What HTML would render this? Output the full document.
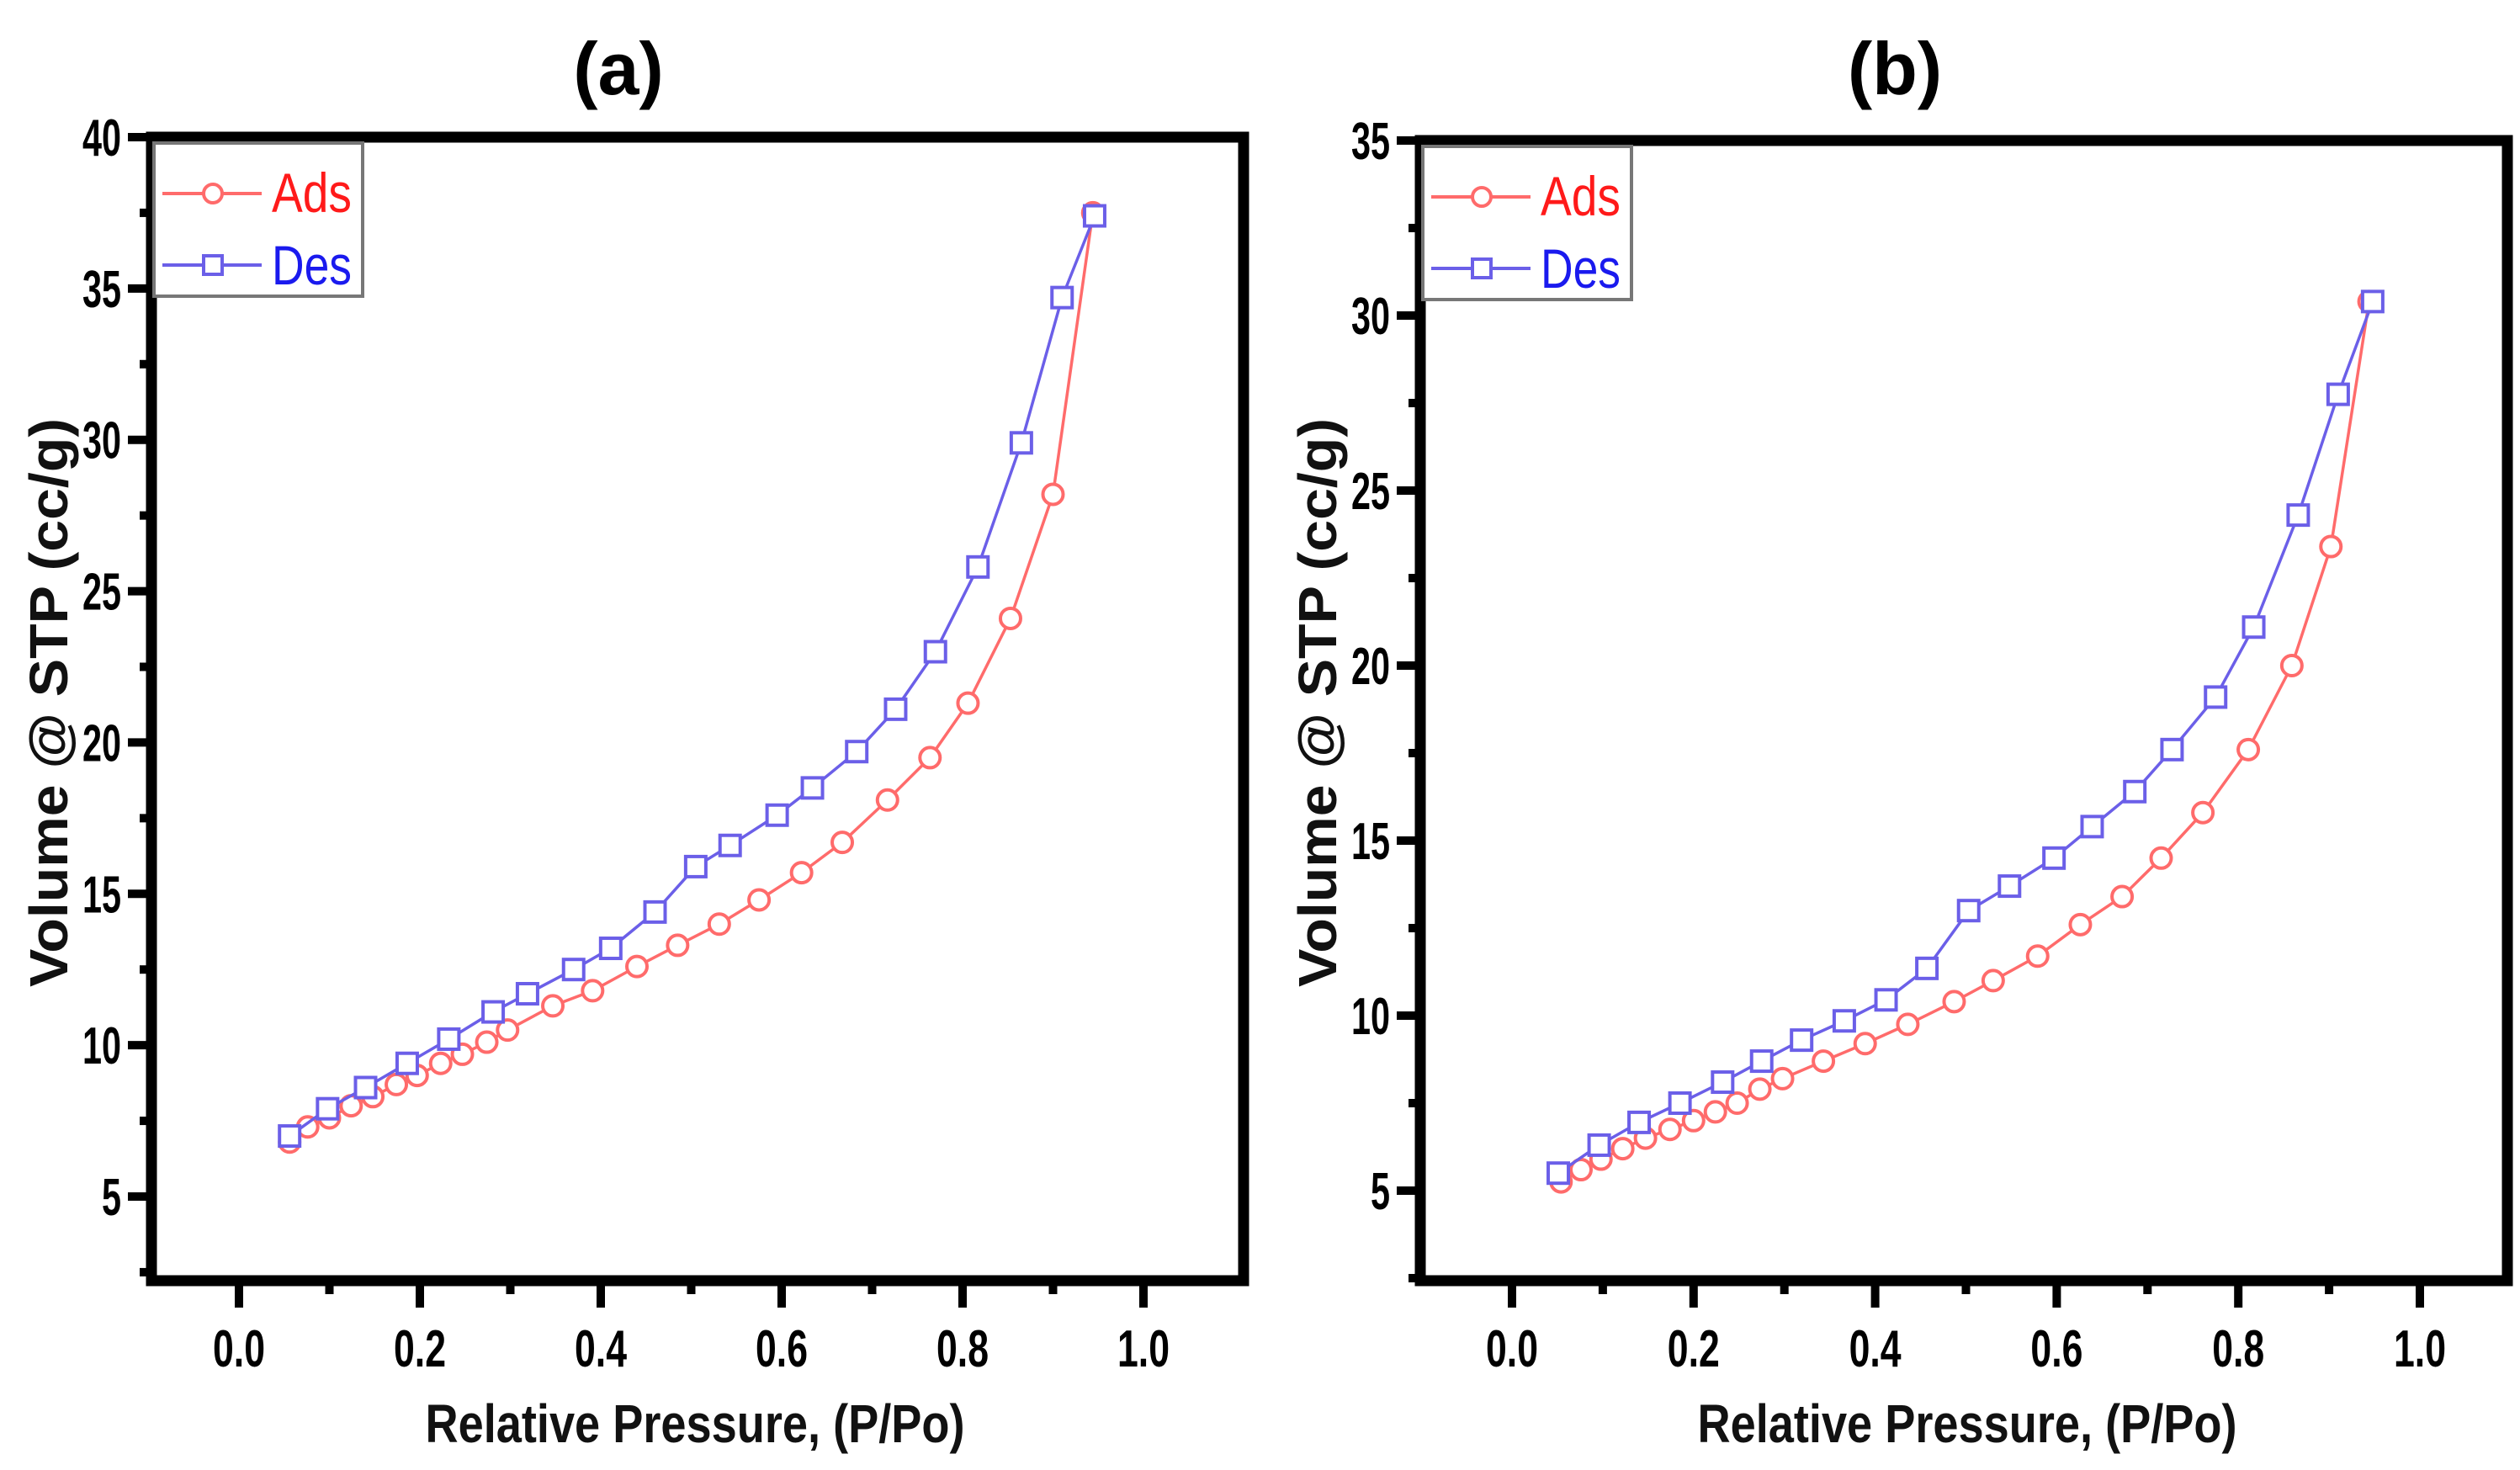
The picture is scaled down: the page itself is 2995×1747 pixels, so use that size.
<!DOCTYPE html>
<html><head><meta charset="utf-8"><style>
html,body{margin:0;padding:0;background:#fff;}
svg{display:block;font-family:"Liberation Sans",Arial,sans-serif;}
</style></head><body>
<svg id="chart" width="2995" height="1747" viewBox="0 0 2995 1747" xmlns="http://www.w3.org/2000/svg"></svg>
<script>
// Panel (a) data
const aAdsX=[0.056,0.076,0.10,0.124,0.148,0.174,0.197,0.223,0.247,0.274,0.297,0.347,0.391,0.44,0.485,0.531,0.575,0.622,0.667,0.717,0.764,0.806,0.853,0.90,0.944];
const aAdsY=[6.8,7.3,7.6,8.0,8.3,8.7,9.0,9.4,9.7,10.1,10.5,11.3,11.8,12.6,13.3,14.0,14.8,15.7,16.7,18.1,19.5,21.3,24.1,28.2,37.5];
const aDesX=[0.056,0.098,0.14,0.186,0.232,0.281,0.319,0.37,0.411,0.46,0.505,0.543,0.595,0.634,0.683,0.726,0.77,0.817,0.865,0.91,0.946];
const aDesY=[7.0,7.9,8.6,9.4,10.2,11.1,11.7,12.5,13.2,14.4,15.9,16.6,17.6,18.5,19.7,21.1,23.0,25.8,29.9,34.7,37.4];
// Panel (b) data
const bAdsX=[0.054,0.076,0.098,0.122,0.147,0.174,0.2,0.224,0.248,0.273,0.298,0.343,0.389,0.436,0.487,0.53,0.579,0.626,0.672,0.715,0.761,0.811,0.859,0.902,0.944];
const bAdsY=[5.25,5.6,5.9,6.2,6.5,6.75,7.0,7.25,7.5,7.9,8.2,8.7,9.2,9.75,10.4,11.0,11.7,12.6,13.4,14.5,15.8,17.6,20.0,23.4,30.4];
const bDesX=[0.051,0.096,0.14,0.185,0.232,0.275,0.319,0.366,0.412,0.457,0.503,0.548,0.597,0.639,0.686,0.727,0.775,0.817,0.866,0.91,0.948];
const bDesY=[5.5,6.3,6.95,7.5,8.1,8.7,9.3,9.85,10.45,11.35,13.0,13.7,14.5,15.4,16.4,17.6,19.1,21.1,24.3,27.75,30.4];
const xTicks=[0.0,0.2,0.4,0.6,0.8,1.0];
const aYTicks=[5,10,15,20,25,30,35,40];
const bYTicks=[5,10,15,20,25,30,35];

const NS="http://www.w3.org/2000/svg";
const svg=document.getElementById('chart');
function mk(tag,attrs,parent,text){const e=document.createElementNS(NS,tag);for(const k in attrs)e.setAttribute(k,attrs[k]);if(text!==undefined)e.textContent=text;(parent||svg).appendChild(e);return e;}

function panel(cfg){
  const g=mk('g',{});
  
  
  const L=cfg.L,R=cfg.R,T=cfg.T,B=cfg.B;
  const sx=v=>cfg.x0px+(v-0)*(cfg.x1px-cfg.x0px);
  const sy=v=>cfg.y5px-(v-5)*(cfg.y5px-cfg.ytopPx)/(cfg.ytop-5);
  const t=mk('text',{x:cfg.titleX,y:112,'text-anchor':'middle','font-size':88,'font-weight':'bold',fill:'#000'},g,'('+cfg.id+')');
  
  
  for(let v=0;v<=1.0001;v+=0.1){
    const major=Math.round(v*10)%2===0;
    const tk=mk('line',{x1:sx(v),x2:sx(v),y1:B,y2:B+(major?32:16),stroke:'#000','stroke-width':10},g);
    
    
  }
  xTicks.forEach(v=>{
    const tl=mk('text',{x:sx(v),y:B+102,'text-anchor':'middle','font-size':62,'font-weight':'bold',fill:'#000',textLength:62,lengthAdjust:'spacingAndGlyphs'},g,v.toFixed(1));
    
    
  });
  for(let v=2.5;v<=cfg.ytop+0.01;v+=2.5){
    const major=Math.abs(v%5)<0.01;
    const tk=mk('line',{x1:L,x2:L-(major?28:14),y1:sy(v),y2:sy(v),stroke:'#000','stroke-width':10},g);
    
    
  }
  cfg.yTicks.forEach(v=>{
    const s=String(v);
    const tl=mk('text',{x:L-36,y:sy(v)+22,'text-anchor':'end','font-size':62,'font-weight':'bold',fill:'#000',textLength:s.length*23,lengthAdjust:'spacingAndGlyphs'},g,s);
    
    
  });
  const fr=mk('rect',{x:L,y:T,width:R-L,height:B-T,fill:'none',stroke:'#000','stroke-width':13},g);
  
  
  const xt=mk('text',{x:cfg.xTitleX,y:1714,'text-anchor':'middle','font-size':64,'font-weight':'bold',fill:'#111',textLength:641,lengthAdjust:'spacingAndGlyphs'},g,'Relative Pressure, (P/Po)');
  
  
  const cy=cfg.yTitleY, yx=L-100;
  const yt=mk('text',{x:yx,y:cy,'text-anchor':'middle','font-size':64,'font-weight':'bold',fill:'#111',textLength:676,lengthAdjust:'spacingAndGlyphs',transform:'rotate(-90 '+yx+' '+cy+')'},g,'Volume @ STP (cc/g)');
  
  
  function series(xs,ys,color,shape,name){
    const pts=xs.map((x,i)=>sx(x)+','+sy(ys[i])).join(' ');
    const pl=mk('polyline',{points:pts,fill:'none',stroke:color,'stroke-width':3.5},g);
    
    
    xs.forEach((x,i)=>{
      let m;
      if(shape==='c') m=mk('circle',{cx:sx(x),cy:sy(ys[i]),r:12,fill:'#fff',stroke:color,'stroke-width':4},g);
      else m=mk('rect',{x:sx(x)-12,y:sy(ys[i])-12,width:24,height:24,fill:'#fff',stroke:color,'stroke-width':4},g);
      
      
    });
  }
  series(cfg.adsX,cfg.adsY,'#ff6b6b','c','ads');
  series(cfg.desX,cfg.desY,'#6b5fe8','s','des');
  const lg=mk('g',{},g);
  
  
  const lx=L+3,ly=T+7;
  mk('rect',{x:lx,y:ly,width:248,height:182,fill:'#fff',stroke:'#777','stroke-width':4},lg);
  const e1=mk('g',{},lg);
  
  
  mk('line',{x1:lx+10,x2:lx+128,y1:ly+60,y2:ly+60,stroke:'#ff6b6b','stroke-width':4},e1);
  mk('circle',{cx:lx+70,cy:ly+60,r:11,fill:'#fff',stroke:'#ff6b6b','stroke-width':4},e1);
  mk('text',{x:lx+140,y:ly+82,'font-size':66,fill:'#ff1a1a',textLength:95,lengthAdjust:'spacingAndGlyphs'},e1,'Ads');
  const e2=mk('g',{},lg);
  
  
  mk('line',{x1:lx+10,x2:lx+128,y1:ly+145,y2:ly+145,stroke:'#6b5fe8','stroke-width':4},e2);
  mk('rect',{x:lx+59,y:ly+134,width:22,height:22,fill:'#fff',stroke:'#6b5fe8','stroke-width':4},e2);
  mk('text',{x:lx+140,y:ly+168,'font-size':66,fill:'#1a1aee',textLength:95,lengthAdjust:'spacingAndGlyphs'},e2,'Des');
}

panel({id:'a',L:180,R:1478,T:163,B:1522,x0px:284,x1px:1359,y5px:1422,ytopPx:163,ytop:40,yTicks:aYTicks,titleX:735,xTitleX:826,yTitleY:835,adsX:aAdsX,adsY:aAdsY,desX:aDesX,desY:aDesY});
panel({id:'b',L:1688,R:2980,T:167,B:1522,x0px:1797,x1px:2876,y5px:1415,ytopPx:167,ytop:35,yTicks:bYTicks,titleX:2252,xTitleX:2338,yTitleY:835,adsX:bAdsX,adsY:bAdsY,desX:bDesX,desY:bDesY});
</script>
</body></html>
